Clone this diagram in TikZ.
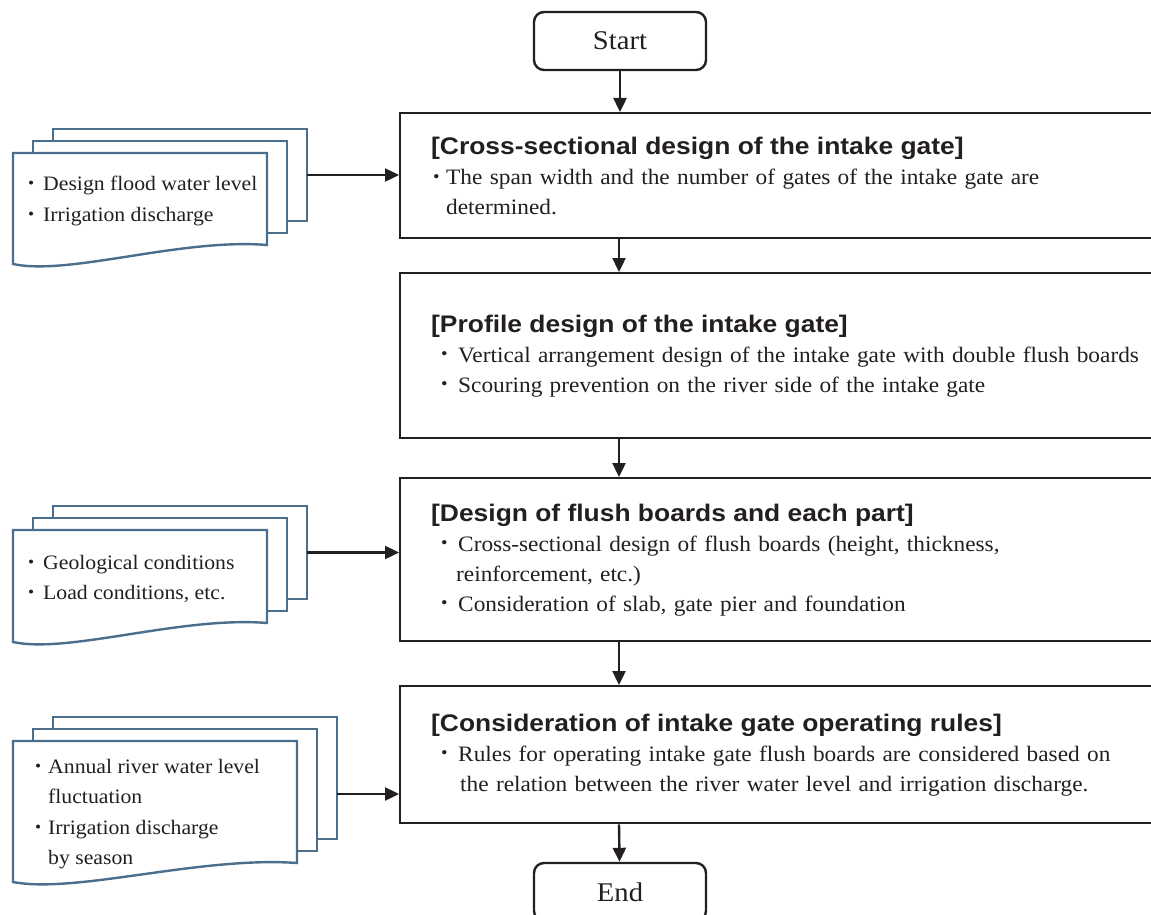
\documentclass[tikz,border=0pt]{standalone}
\usepackage{fontspec}
\setmainfont{Liberation Serif}[FakeStretch=1.06]
\newfontfamily\headfont{Liberation Sans}[FakeStretch=1.1]
\usetikzlibrary{arrows.meta,calc}

\definecolor{ink}{HTML}{231F20}
\definecolor{docblue}{HTML}{4A6E8C}

% bullet: #1 space before the dot, #2 total indent of the item text
\newcommand\bul[2]{\makebox[#2][l]{\hspace*{#1}\raisebox{0.1em}{\scalebox{0.8}{•}}}}
\newcommand\heading[1]{{\headfont\bfseries\fontsize{24}{30}\selectfont #1}}

\tikzset{
  proc/.style={draw=ink, line width=2.4pt, fill=white, anchor=north west,
    text width=760pt, inner xsep=31pt, inner ysep=0pt, align=left, text=ink,
    font=\fontsize{22}{30}\selectfont},
  term/.style={draw=ink, line width=2.4pt, rounded corners=10pt, fill=white,
    minimum width=172pt, minimum height=58pt, text=ink,
    font=\fontsize{27}{30}\selectfont},
  flow/.style={draw=ink, line width=2.4pt, -{Triangle[length=14pt,width=13pt]}},
  sheet/.style={draw=docblue, line width=2.4pt, fill=white},
  sheetbox/.style={sheet, anchor=north west, inner sep=0pt, outer sep=0pt},
  doctext/.style={anchor=west, align=left, inner sep=0pt, text=ink,
    font=\fontsize{20.5}{30.5}\selectfont},
}

% stack of three document sheets: #1 name, #2 left x, #3 top y, #4 width, #5 height
\newcommand\docstack[5]{%
  \node[sheetbox, minimum width=#4pt, minimum height=#5pt] (#1c) at (#2+40,#3-24) {};
  \node[sheetbox, minimum width=#4pt, minimum height=#5pt] (#1b) at (#2+20,#3-12) {};
  \draw[sheet] (#2,#3) -- (#2+#4,#3) -- (#2+#4,#3+#5)
    .. controls (#2+0.66*#4,#3+#5-7) and (#2+0.22*#4,#3+#5+31) .. (#2,#3+#5+19)
    -- cycle;
}

\begin{document}
\begin{tikzpicture}[x=1pt,y=-1pt]
\useasboundingbox (0,0) rectangle (1151,915);

% terminals
\node[term] (start) at (620,41) {Start};
\node[term] (end) at (620,892) {End};

% process boxes (their right edges run past the page edge)
\node[proc, minimum height=125pt] (b1) at (399,112) {%
  \heading{[Cross-sectional design of the intake gate]}\\
  \bul{2pt}{15pt}The span width and the number of gates of the intake gate are\\
  \hspace*{15pt}determined.};

\node[proc, minimum height=165pt] (b2) at (399,272) {%
  \heading{[Profile design of the intake gate]}\\
  \bul{10pt}{27pt}Vertical arrangement design of the intake gate with double flush boards\\
  \bul{10pt}{27pt}Scouring prevention on the river side of the intake gate};

\node[proc, minimum height=163pt] (b3) at (399,477) {%
  \heading{[Design of flush boards and each part]}\\
  \bul{10pt}{27pt}Cross-sectional design of flush boards (height, thickness,\\
  \hspace*{25pt}reinforcement, etc.)\\
  \bul{10pt}{27pt}Consideration of slab, gate pier and foundation};

\node[proc, minimum height=137pt] (b4) at (399,685) {%
  \heading{[Consideration of intake gate operating rules]}\\
  \bul{10pt}{27pt}Rules for operating intake gate flush boards are considered based on\\
  \hspace*{29pt}the relation between the river water level and irrigation discharge.};

% main flow
\draw[flow] (start) -- (start |- b1.north);
\draw[flow] ($(b1.south west)+(220,0)$) -- ($(b2.north west)+(220,0)$);
\draw[flow] ($(b2.south west)+(220,0)$) -- ($(b3.north west)+(220,0)$);
\draw[flow] ($(b3.south west)+(220,0)$) -- ($(b4.north west)+(220,0)$);
\draw[flow] ($(b4.south west)+(220,0)$) -- (end);

% input documents
\docstack{d1}{13}{153}{254}{92}
\node[doctext] (t1) at (28,201) {%
  \bul{0pt}{15pt}Design flood water level\\
  \bul{0pt}{15pt}Irrigation discharge};

\docstack{d2}{13}{530}{254}{93}
\node[doctext] (t2) at (28,579) {%
  \bul{0pt}{15pt}Geological conditions\\
  \bul{0pt}{15pt}Load conditions, etc.};

\docstack{d3}{13}{741}{284}{122}
\node[doctext] (t3) at (35,814) {%
  \bul{0pt}{13pt}Annual river water level\\
  \hspace*{13pt}fluctuation\\
  \bul{0pt}{13pt}Irrigation discharge\\
  \hspace*{13pt}by season};

% inputs feeding the process boxes
\draw[flow] (d1c.east) -- (d1c.east -| b1.west);
\draw[flow] (d2c.east) -- (d2c.east -| b3.west);
\draw[flow] ([yshift=-16pt]d3c.east) -- ([yshift=-16pt]d3c.east -| b4.west);
\end{tikzpicture}
\end{document}
